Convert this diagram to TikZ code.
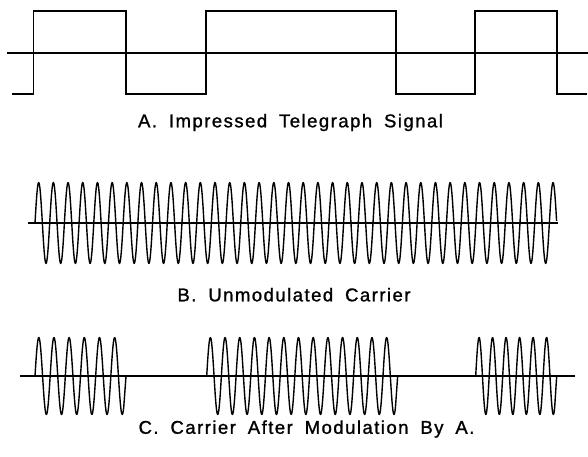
\documentclass[tikz,border=0pt]{standalone}
\usepackage{fontspec}
\newfontfamily\labfont[LetterSpace=8,WordSpace=1.8,FakeBold=1.2]{Liberation Sans}
\tikzset{
  axisline/.style={line width=1.1pt},
  wave/.style={line width=1.4pt, line join=round},
  sqwave/.style={line width=1.7pt, line join=miter},
  caption/.style={font=\labfont\fontsize{18.5}{22}\selectfont, inner sep=0pt, anchor=center}
}
\begin{document}
\begin{tikzpicture}[x=1pt,y=-1pt]
\useasboundingbox (0,0) rectangle (588,457);
% ---------- A: impressed telegraph signal ----------
\draw[axisline] (7,53) -- (588,53);
\draw[sqwave] (12,94) -- (33.5,94) -- (33.5,11) -- (126,11) -- (126,94)
  -- (205.7,94) -- (205.7,11) -- (396,11) -- (396,94) -- (475,94)
  -- (475,11) -- (556.7,11) -- (556.7,94) -- (587,94);
\node[caption] (capA) at (290.5,122.5) {A. Impressed Telegraph Signal};
% ---------- B: unmodulated carrier ----------
\draw[axisline] (28,223) -- (558.3,223);
\draw[wave] plot[domain=0:35.5, samples=853] ({35+\x*14.696},{223-40.5*sin(360*\x)});
\node[caption] (capB) at (294,294.7) {B. Unmodulated Carrier};
% ---------- C: carrier after modulation ----------
\draw[axisline] (20,376) -- (575,376);
\foreach \s/\n/\p in {35/6/15.17, 206.7/13/14.69, 475.7/6/13.5} {
  \pgfmathsetmacro\dend{\n-0.15}
  \pgfmathsetmacro\xend{\s+\n*\p}
  \pgfmathtruncatemacro\nsam{\n*30+1}
  \draw[wave] plot[domain=0:\dend, samples=\nsam] ({\s+\x*\p},{376-38.5*sin(360*\x)}) -- (\xend,376);
}
\node[caption] (capC) at (306.5,429) {C. Carrier After Modulation By A.};
\end{tikzpicture}
\end{document}
